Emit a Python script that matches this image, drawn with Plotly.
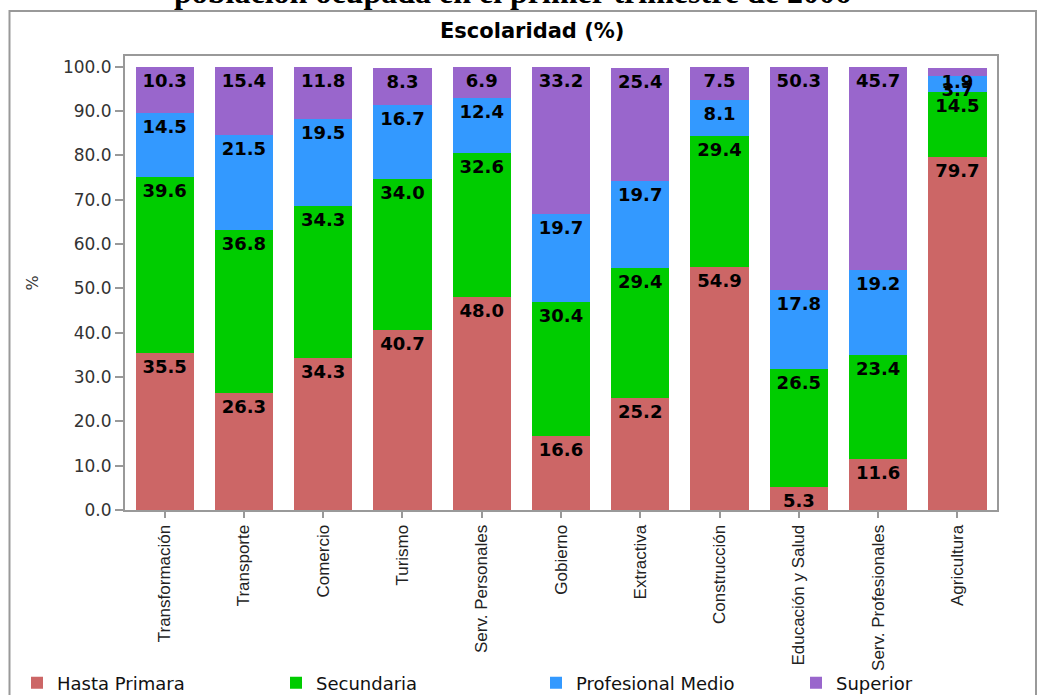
import plotly.graph_objects as go

categories = ["Transformación", "Transporte", "Comercio", "Turismo", "Serv. Personales",
              "Gobierno", "Extractiva", "Construcción", "Educación y Salud",
              "Serv. Profesionales", "Agricultura"]
hasta_primaria = [35.5, 26.3, 34.3, 40.7, 48.0, 16.6, 25.2, 54.9, 5.3, 11.6, 79.7]
secundaria = [39.6, 36.8, 34.3, 34.0, 32.6, 30.4, 29.4, 29.4, 26.5, 23.4, 14.5]
profesional_medio = [14.5, 21.5, 19.5, 16.7, 12.4, 19.7, 19.7, 8.1, 17.8, 19.2, 3.7]
superior = [10.3, 15.4, 11.8, 8.3, 6.9, 33.2, 25.4, 7.5, 50.3, 45.7, 1.9]
y_ticks = [0, 10, 20, 30, 40, 50, 60, 70, 80, 90, 100]

series_names = ["Hasta Primara", "Secundaria", "Profesional Medio", "Superior"]
series_values = [hasta_primaria, secundaria, profesional_medio, superior]
series_colors = ["#CC6666", "#00CC00", "#3399FF", "#9966CC"]

W, H = 1042, 695
# screen-space layout of the plot area: x 125..997, y 56..510
L, R, T, B = 125, W - 997, 56, H - 510
pw, ph = W - L - R, H - T - B

def px_x(s):
    return (s - L) / pw

def px_y(s):
    return (H - B - s) / ph

legend_text_x = [59, 318, 578, 838]
legend_ids = ["legend", "legend2", "legend3", "legend4"]

fig = go.Figure()
for name, vals, color, lid in zip(series_names, series_values, series_colors, legend_ids):
    fig.add_trace(go.Bar(
        x=categories, y=vals, name=name, legend=lid,
        marker=dict(color=color, line=dict(width=0)),
        texttemplate="%{y:.1f}", textposition="inside", insidetextanchor="end",
        constraintext="none", textangle=0,
        textfont=dict(family="DejaVu Sans", size=18, color="black", weight="bold"),
        cliponaxis=False,
    ))

legend_layout = {}
for lid, tx in zip(legend_ids, legend_text_x):
    legend_layout[lid] = dict(
        orientation="h", x=px_x(tx - 42), xanchor="left", y=px_y(683), yanchor="middle",
        bgcolor="rgba(0,0,0,0)", borderwidth=0,
        font=dict(family="DejaVu Sans", size=18, color="#111"),
    )

fig.update_layout(
    width=W, height=H, barmode="stack", bargap=0.265,
    margin=dict(l=L, r=R, t=T, b=B, pad=0, autoexpand=False),
    paper_bgcolor="white", plot_bgcolor="white",
    showlegend=True,
    xaxis=dict(
        automargin=False,
        showline=True, linecolor="#999999", linewidth=2, mirror=True,
        ticks="outside", ticklen=6, tickcolor="#999999", tickwidth=2,
        tickangle=-90, showgrid=False,
        tickfont=dict(family="Liberation Sans", size=17, color="#222"),
    ),
    yaxis=dict(
        automargin=False,
        range=[0, 102.4], tickvals=y_ticks, tickformat=".1f",
        showline=True, linecolor="#999999", linewidth=2, mirror=True,
        ticks="outside", ticklen=8, tickcolor="#999999", tickwidth=2, showgrid=False,
        zeroline=False,
        tickfont=dict(family="DejaVu Sans", size=17, color="#333"),
        title=dict(text="%", font=dict(family="DejaVu Sans", size=16, color="#333"), standoff=20),
    ),
    annotations=[
        dict(text="<b>población ocupada en el primer trimestre de 2006</b>", xref="paper", yref="paper",
             x=px_x(512), y=px_y(-8), xanchor="center", yanchor="middle", showarrow=False,
             font=dict(family="Liberation Serif", size=32, color="black")),
        dict(text="Escolaridad (%)", xref="paper", yref="paper",
             x=px_x(532), y=px_y(31), xanchor="center", yanchor="middle", showarrow=False,
             font=dict(family="DejaVu Sans", size=21, color="black", weight="bold")),
    ],
    shapes=[
        dict(type="rect", xref="paper", yref="paper",
             x0=px_x(9.5), x1=px_x(1036), y0=px_y(720), y1=px_y(11),
             line=dict(color="#999999", width=2), fillcolor="rgba(0,0,0,0)", layer="below"),
    ],
    **legend_layout,
)

fig.write_html("out.html", config={"displayModeBar": False},
               post_script="document.body.style.margin='0';")
